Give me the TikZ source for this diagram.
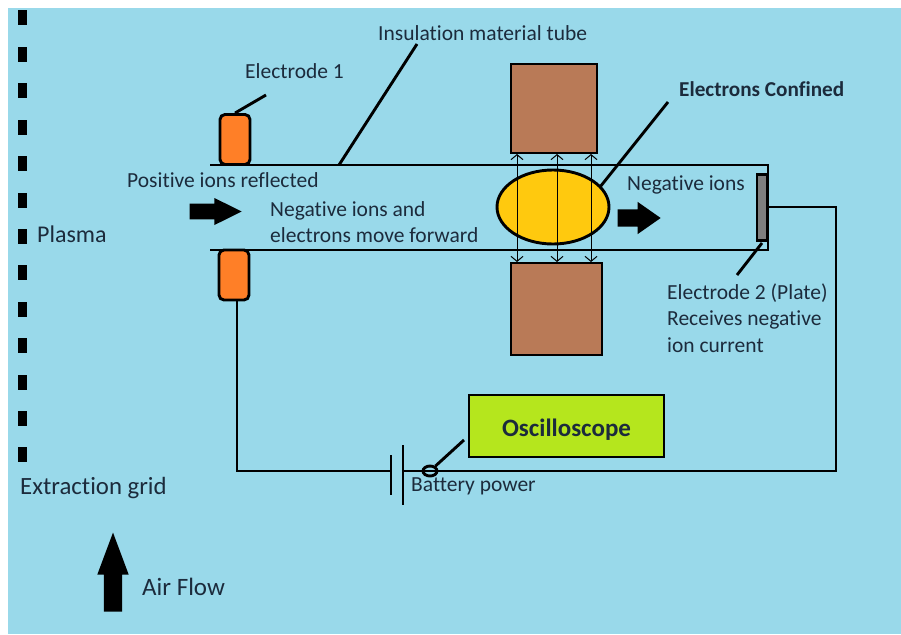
\documentclass[tikz,border=0pt]{standalone}
\usepackage{fontspec}
\setmainfont{Carlito}[Ligatures=NoCommon]
\usepackage{tikz}
\usetikzlibrary{arrows.meta, positioning, calc, shapes.geometric, shapes.arrows}
\definecolor{panelblue}{HTML}{99D9EA}
\definecolor{electrodeorange}{HTML}{FF7F27}
\definecolor{magnetbrown}{HTML}{B97A57}
\definecolor{cloudyellow}{HTML}{FFC90E}
\definecolor{scopegreen}{HTML}{B5E61D}
\definecolor{plategrey}{HTML}{7F7F7F}
\definecolor{labelink}{HTML}{1C2B3C}
\tikzset{
    label text/.style={anchor=west, inner sep=0pt, text=labelink, font=\fontsize{21.5}{26.5}\selectfont},
    wire/.style={line width=2.9pt, line join=miter},
    leader/.style={line width=2.9pt},
    griddash/.style={fill=black, minimum width=8.5pt, minimum height=15pt, inner sep=0pt},
    electrode/.style={draw, wire, fill=electrodeorange, rounded corners=5pt, minimum width=30pt, minimum height=50pt, inner sep=0pt},
    magnet/.style={draw, wire, fill=magnetbrown, inner sep=0pt},
    fieldline/.style={line width=1pt, {Straight Barb[width=12pt,length=5pt]}-{Straight Barb[width=12pt,length=5pt]}},
    blockarrow/.style={single arrow, fill=black, anchor=tip, single arrow head indent=0pt}
}
\begin{document}
\begin{tikzpicture}[x=1pt, y=-1pt]
    \useasboundingbox (0,0) rectangle (901,634);
    \fill[white] (0,0) rectangle (901,634);
    \fill[panelblue] (8,8) rectangle (901,634);
    % Extraction grid
    \foreach \i in {0,...,12} {
        \node[griddash] (dash\i) at (22.3,{18+36.4*\i}) {};
    }
    % Tube
    \coordinate (tubeTL) at (210,165);
    \coordinate (tubeTR) at (768,165);
    \coordinate (tubeBR) at (768,250);
    \coordinate (tubeBL) at (210,250);
    \draw[wire] (tubeTL) -- (tubeTR) -- (tubeBR) -- (tubeBL);
    % Electrodes
    \node[electrode] (elecA) at (235,139.5) {};
    \node[electrode] (elecB) at (234,275) {};
    \node[draw, wire, fill=plategrey, minimum width=10pt, minimum height=66pt, inner sep=0pt] (plate) at (762,207.5) {};
    % Magnets and confined electrons
    \node[magnet, minimum width=86pt, minimum height=89pt] (magTop) at (554,108.5) {};
    \node[magnet, minimum width=91pt, minimum height=92pt] (magBot) at (556.5,309) {};
    \node[draw, wire, ellipse, fill=cloudyellow, minimum width=112pt, minimum height=74pt, inner sep=0pt] (cloud) at (553,207) {};
    \foreach \x in {517,557,591} {
        \coordinate (fieldA\x) at (\x,154);
        \coordinate (fieldB\x) at (\x,262);
        \draw[fieldline] (fieldA\x) -- (fieldB\x);
    }
    % Block arrows
    \node[blockarrow, inner xsep=0pt, inner ysep=7.5pt, minimum height=52pt, minimum width=27pt, single arrow tip angle=53, single arrow head extend=5.5pt] (flowIn) at (242,211.5) {};
    \node[blockarrow, inner xsep=0pt, inner ysep=8.5pt, minimum height=43pt, minimum width=32pt, single arrow tip angle=70, single arrow head extend=7.5pt] (flowOut) at (661,218) {};
    \node[blockarrow, inner xsep=9pt, inner ysep=0pt, shape border rotate=90, minimum height=79pt, minimum width=31pt, single arrow tip angle=41, single arrow head extend=6.5pt] (airFlow) at (113,532) {};
    % Circuit
    \node[draw, wire, fill=scopegreen, minimum width=195pt, minimum height=62pt, inner sep=0pt, text=labelink, text height=21pt, text depth=1pt, font=\fontsize{25}{28}\selectfont\bfseries] (scope) at (566.5,426) {Oscilloscope};
    \coordinate (cellA) at (391,471);
    \coordinate (cellB) at (403,471);
    \coordinate (cornerR) at (836,207);
    \draw[wire] (plate.east |- cornerR) -- (cornerR) |- (cellB);
    \draw[wire] (elecB.south -| 237,300) |- (cellA);
    \draw[wire] ($(cellA)+(0,-16)$) -- ($(cellA)+(0,24)$);
    \draw[wire] ($(cellB)+(0,-26)$) -- ($(cellB)+(0,34)$);
    \node[draw, wire, ellipse, minimum width=14pt, minimum height=10pt, inner sep=0pt] (joint) at (430,471) {};
    % Leaders
    \coordinate (leadElecA) at (266,95);
    \coordinate (leadTubeA) at (339,165);
    \coordinate (leadTubeB) at (417,44);
    \coordinate (leadCloudA) at (600,187);
    \coordinate (leadCloudB) at (668,102);
    \coordinate (leadPlateA) at (762,243);
    \coordinate (leadPlateB) at (737,275);
    \coordinate (leadJoint) at (464,440);
    \draw[leader] (elecA.north) -- (leadElecA);
    \draw[leader] (leadTubeA) -- (leadTubeB);
    \draw[leader] (leadCloudA) -- (leadCloudB);
    \draw[leader] (leadPlateA) -- (leadPlateB);
    \draw[leader] (joint) -- (leadJoint);
    % Labels
    \node[label text] (lblTube) at (378,33) {Insulation material tube};
    \node[label text] (lblElecA) at (245,71) {Electrode 1};
    \node[label text, font=\fontsize{21.2}{24}\selectfont\bfseries] (lblCloud) at (679,89) {Electrons Confined};
    \node[label text] (lblPos) at (127,180) {Positive ions reflected};
    \node[label text, align=left] (lblNeg) at (270,222) {Negative ions and\\electrons move forward};
    \node[label text] (lblOut) at (627,185) {Negative ions};
    \node[label text, font=\fontsize{24}{28}\selectfont] (lblPlasma) at (37,234) {Plasma};
    \node[label text, align=left] (lblPlate) at (667,318) {Electrode 2 (Plate)\\Receives negative\\ion current};
    \node[label text, font=\fontsize{24.8}{28}\selectfont] (lblGrid) at (20,488) {Extraction grid};
    \node[label text] (lblBatt) at (411,486) {Battery power};
    \node[label text, font=\fontsize{25}{28}\selectfont] (lblAir) at (142,587) {Air Flow};
\end{tikzpicture}
\end{document}
